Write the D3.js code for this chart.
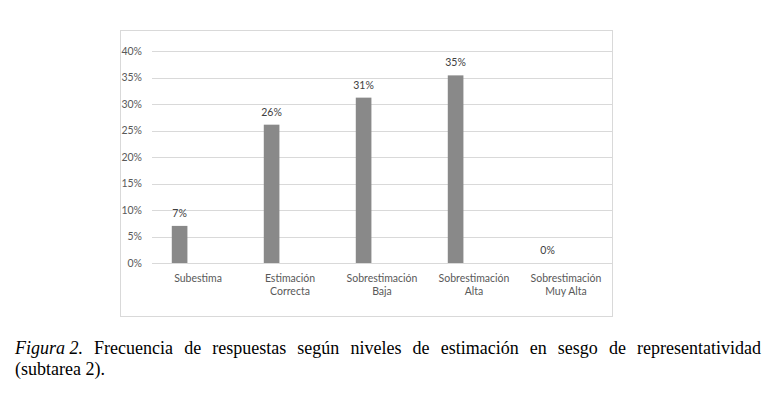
<!DOCTYPE html>
<html>
<head>
<meta charset="utf-8">
<script src="https://cdn.jsdelivr.net/npm/d3@7"></script>
<style>
  body { margin: 0; background: #fff; }
  svg { display: block; }
</style>
</head>
<body>
<script>
const width = 779, height = 396;

// Data
const categories = ["Subestima", "Estimación Correcta", "Sobrestimación Baja", "Sobrestimación Alta", "Sobrestimación Muy Alta"];
const categoryLines = [["Subestima"], ["Estimación", "Correcta"], ["Sobrestimación", "Baja"], ["Sobrestimación", "Alta"], ["Sobrestimación", "Muy Alta"]];
const values = [0.070, 0.261, 0.312, 0.354, 0.0];
const valueLabels = ["7%", "26%", "31%", "35%", "0%"];
const yTicks = [0, 0.05, 0.10, 0.15, 0.20, 0.25, 0.30, 0.35, 0.40];
const captionItalic = "Figura 2.";
const captionLine1 = "Frecuencia de respuestas según niveles de estimación en sesgo de representatividad";
const captionLine2 = "(subtarea 2).";

const svg = d3.select("body")
    .append("svg")
    .attr("width", width)
    .attr("height", height);

svg.append("rect")
    .attr("width", width)
    .attr("height", height)
    .attr("fill", "#fff");

// chart frame
svg.append("rect")
    .attr("x", 120.5)
    .attr("y", 30.5)
    .attr("width", 492)
    .attr("height", 286)
    .attr("fill", "none")
    .attr("stroke", "#d9d9d9");

const plot = { left: 152, right: 612, top: 51, bottom: 263 };

const x = d3.scaleBand()
    .domain(categories)
    .range([plot.left, plot.right]);

const y = d3.scaleLinear()
    .domain([0, 0.40])
    .range([plot.bottom, plot.top]);

const chartFont = "Lato, 'Open Sans', sans-serif";
const textColor = "#595959";

// gridlines
svg.append("g")
    .selectAll("line")
    .data(yTicks)
    .enter()
    .append("line")
    .attr("x1", plot.left)
    .attr("x2", plot.right)
    .attr("y1", d => Math.round(y(d)) + 0.5)
    .attr("y2", d => Math.round(y(d)) + 0.5)
    .attr("stroke", "#d9d9d9")
    .attr("stroke-width", 1);

// y axis labels
const yAxis = svg.append("g")
    .attr("transform", `translate(${plot.left - 10},0)`)
    .call(d3.axisLeft(y).tickValues(yTicks).tickFormat(d3.format(".0%")).tickSize(0).tickPadding(0));
yAxis.select(".domain").remove();
yAxis.selectAll("text")
    .attr("font-family", chartFont)
    .attr("font-size", "10.5px")
    .attr("fill", textColor);

// bars: single series sits left of the category centre
const barW = x.bandwidth() * 0.17;
const barOffset = x.bandwidth() * 0.215;

svg.selectAll(".bar")
    .data(values)
    .enter()
    .append("rect")
    .attr("class", "bar")
    .attr("x", (d, i) => x(categories[i]) + barOffset)
    .attr("y", d => y(d))
    .attr("width", barW)
    .attr("height", d => y(0) - y(d))
    .attr("fill", "#898989");

// value labels
svg.selectAll(".val")
    .data(values)
    .enter()
    .append("text")
    .attr("class", "val")
    .attr("x", (d, i) => x(categories[i]) + barOffset + barW / 2)
    .attr("y", d => y(d) - 9)
    .attr("text-anchor", "middle")
    .attr("font-family", chartFont)
    .attr("font-size", "10.5px")
    .attr("fill", "#404040")
    .text((d, i) => valueLabels[i]);

// category labels
const catG = svg.selectAll(".cat")
    .data(categories)
    .enter()
    .append("text")
    .attr("class", "cat")
    .attr("x", d => x(d) + x.bandwidth() / 2)
    .attr("y", 282)
    .attr("text-anchor", "middle")
    .attr("font-family", chartFont)
    .attr("font-size", "10.5px")
    .attr("fill", textColor);

catG.each(function(d, i) {
    d3.select(this).selectAll("tspan")
        .data(categoryLines[i])
        .enter()
        .append("tspan")
        .attr("x", x(d) + x.bandwidth() / 2)
        .attr("dy", (t, j) => j === 0 ? 0 : 12.5)
        .text(t => t);
});

// caption, first line justified between 15 and 760
const capFont = "'Liberation Serif', 'Times New Roman', serif";
const capSize = "18px";
const words = [{ t: captionItalic, it: true }]
    .concat(captionLine1.split(" ").map(t => ({ t: t, it: false })));

const capG = svg.append("g")
    .attr("font-family", capFont)
    .attr("font-size", capSize)
    .attr("fill", "#000");

const wordNodes = capG.selectAll(".w")
    .data(words)
    .enter()
    .append("text")
    .attr("class", "w")
    .attr("y", 354)
    .attr("font-style", d => d.it ? "italic" : "normal")
    .text(d => d.t);

const widths = [];
wordNodes.each(function() { widths.push(this.getComputedTextLength()); });
const lineStart = 15, lineEnd = 761;
const gap = (lineEnd - lineStart - d3.sum(widths)) / (words.length - 1);
let cx = lineStart;
wordNodes.attr("x", (d, i) => {
    const px = cx;
    cx += widths[i] + gap;
    return px;
});

capG.append("text")
    .attr("x", lineStart)
    .attr("y", 375)
    .text(captionLine2);
</script>
</body>
</html>
